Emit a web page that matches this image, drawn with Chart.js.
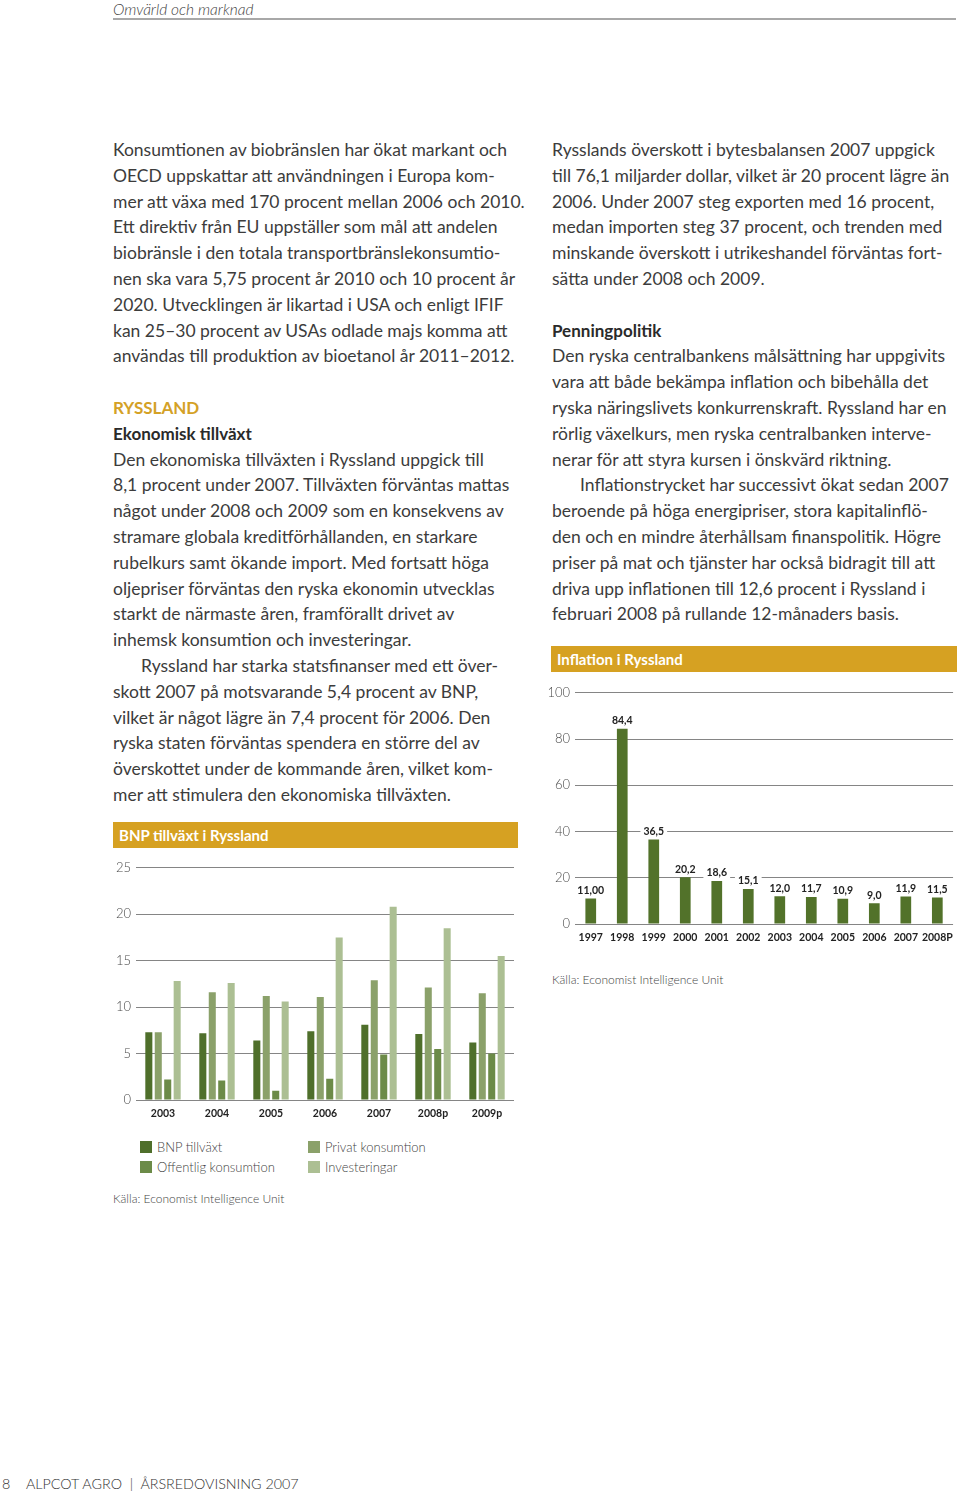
<!DOCTYPE html>
<html lang="sv">
<head>
<meta charset="utf-8">
<title>Omvärld och marknad</title>
<script src="https://cdn.jsdelivr.net/npm/chart.js@4.4.1/dist/chart.umd.min.js"></script>
<style>
    html, body { margin: 0; padding: 0; background: #fff; }
    body { width: 960px; height: 1496px; position: relative; overflow: hidden;
           font-family: "Lato", "Open Sans", sans-serif; color: #333; }
    .hdr { position: absolute; left: 113px; top: 0; font-size: 15.5px; font-style: italic;
           font-weight: 300; color: #444; line-height: 18px; }
    .hdr-rule { position: absolute; left: 113px; top: 18px; width: 843px; height: 2px; background: #a8a8a8; }
    .col { position: absolute; top: 137px; font-size: 17.5px; font-weight: 400; line-height: 25.8px;
           white-space: nowrap; color: #3c3c3c; }
    .col div { height: 25.8px; }
    .col .ind { padding-left: 28px; }
    .col .gold { color: #d4a126; font-weight: 700; font-size: 17px; }
    .col .bold { font-weight: 700; font-size: 17px; color: #2a2a2a; }
    .bar-title { position: absolute; height: 26px; background: #d6a122; color: #fff;
                 font-weight: 700; font-size: 15px; line-height: 26px; padding-left: 6px; box-sizing: border-box; }
    .cv { position: absolute; }
    .legend { position: absolute; left: 140px; top: 1138px; font-size: 13px; font-weight: 300; color: #444; }
    .legend .it { position: absolute; white-space: nowrap; line-height: 18px; }
    .legend .sw { display: inline-block; width: 12px; height: 12px; vertical-align: -1px; margin-right: 5px; }
    .src { position: absolute; font-size: 12px; font-weight: 300; color: #444; white-space: nowrap; }
    .foot { position: absolute; top: 1475px; font-size: 14.3px; font-weight: 300; color: #333; white-space: nowrap; }
</style>
</head>
<body>

<div class="hdr">Omvärld och marknad</div>
<div class="hdr-rule"></div>

<div class="col" style="left:113px">
    <div>Konsumtionen av biobränslen har ökat markant och</div>
    <div>OECD uppskattar att användningen i Europa kom-</div>
    <div>mer att växa med 170 procent mellan 2006 och 2010.</div>
    <div>Ett direktiv från EU uppställer som mål att andelen</div>
    <div>biobränsle i den totala transportbränslekonsumtio-</div>
    <div>nen ska vara 5,75 procent år 2010 och 10 procent år</div>
    <div>2020. Utvecklingen är likartad i USA och enligt IFIF</div>
    <div>kan 25–30 procent av USAs odlade majs komma att</div>
    <div>användas till produktion av bioetanol år 2011–2012.</div>
    <div></div>
    <div class="gold">RYSSLAND</div>
    <div class="bold">Ekonomisk tillväxt</div>
    <div>Den ekonomiska tillväxten i Ryssland uppgick till</div>
    <div>8,1 procent under 2007. Tillväxten förväntas mattas</div>
    <div>något under 2008 och 2009 som en konsekvens av</div>
    <div>stramare globala kreditförhållanden, en starkare</div>
    <div>rubelkurs samt ökande import. Med fortsatt höga</div>
    <div>oljepriser förväntas den ryska ekonomin utvecklas</div>
    <div>starkt de närmaste åren, framförallt drivet av</div>
    <div>inhemsk konsumtion och investeringar.</div>
    <div class="ind">Ryssland har starka statsfinanser med ett över-</div>
    <div>skott 2007 på motsvarande 5,4 procent av BNP,</div>
    <div>vilket är något lägre än 7,4 procent för 2006. Den</div>
    <div>ryska staten förväntas spendera en större del av</div>
    <div>överskottet under de kommande åren, vilket kom-</div>
    <div>mer att stimulera den ekonomiska tillväxten.</div>
</div>

<div class="col" style="left:552px">
    <div>Rysslands överskott i bytesbalansen 2007 uppgick</div>
    <div>till 76,1 miljarder dollar, vilket är 20 procent lägre än</div>
    <div>2006. Under 2007 steg exporten med 16 procent,</div>
    <div>medan importen steg 37 procent, och trenden med</div>
    <div>minskande överskott i utrikeshandel förväntas fort-</div>
    <div>sätta under 2008 och 2009.</div>
    <div></div>
    <div class="bold">Penningpolitik</div>
    <div>Den ryska centralbankens målsättning har uppgivits</div>
    <div>vara att både bekämpa inflation och bibehålla det</div>
    <div>ryska näringslivets konkurrenskraft. Ryssland har en</div>
    <div>rörlig växelkurs, men ryska centralbanken interve-</div>
    <div>nerar för att styra kursen i önskvärd riktning.</div>
    <div class="ind">Inflationstrycket har successivt ökat sedan 2007</div>
    <div>beroende på höga energipriser, stora kapitalinflö-</div>
    <div>den och en mindre återhållsam finanspolitik. Högre</div>
    <div>priser på mat och tjänster har också bidragit till att</div>
    <div>driva upp inflationen till 12,6 procent i Ryssland i</div>
    <div>februari 2008 på rullande 12-månaders basis.</div>
</div>

<!-- Inflation chart -->
<div class="bar-title" style="left:551px; top:646px; width:406px">Inflation i Ryssland</div>
<canvas id="inf-chart" class="cv" style="left:540px; top:680px" width="420" height="269"></canvas>
<div class="src" style="left:552px; top:972px">Källa: Economist Intelligence Unit</div>

<!-- BNP chart -->
<div class="bar-title" style="left:113px; top:822px; width:405px">BNP tillväxt i Ryssland</div>
<canvas id="bnp-chart" class="cv" style="left:100px; top:855px" width="420" height="270"></canvas>
<div class="legend" id="bnp-legend"></div>
<div class="src" style="left:113px; top:1191px">Källa: Economist Intelligence Unit</div>

<div class="foot" style="left:2px">8</div>
<div class="foot" style="left:26px">ALPCOT AGRO&nbsp;&nbsp;|&nbsp;&nbsp;ÅRSREDOVISNING 2007</div>

<script>
// ── BNP tillväxt i Ryssland (procent) ───────────────────────────────────
const BNP_YEARS      = ["2003","2004","2005","2006","2007","2008p","2009p"];
const BNP_GROWTH     = [7.3, 7.2, 6.4, 7.4, 8.1, 7.1, 6.2];
const PRIVATE_CONS   = [7.3, 11.6, 11.2, 11.1, 12.9, 12.1, 11.5];
const PUBLIC_CONS    = [2.2, 2.1, 1.0, 2.3, 4.9, 5.5, 5.0];
const INVESTMENTS    = [12.8, 12.6, 10.6, 17.5, 20.8, 18.5, 15.5];
const BNP_Y_MAX      = 25;
const BNP_Y_STEP     = 5;

// ── Inflation i Ryssland (procent) ──────────────────────────────────────
const INF_YEARS      = ["1997","1998","1999","2000","2001","2002","2003","2004","2005","2006","2007","2008P"];
const INFLATION      = [11.0, 84.4, 36.5, 20.2, 18.6, 15.1, 12.0, 11.7, 10.9, 9.0, 11.9, 11.5];
const INF_LABELS     = ["11,00","84,4","36,5","20,2","18,6","15,1","12,0","11,7","10,9","9,0","11,9","11,5"];
const INF_Y_MAX      = 100;
const INF_Y_STEP     = 20;

const FONT     = "Lato, 'Open Sans', sans-serif";
const GRID_COL = "#858585";

// Value labels on a white patch, so gridlines break behind them
const valueLabels = {
    id: "valueLabels",
    afterDatasetsDraw(chart, args, opts) {
        const ctx  = chart.ctx;
        const meta = chart.getDatasetMeta(0);
        ctx.save();
        ctx.font = `700 10.5px ${FONT}`;
        ctx.textAlign = "center";
        ctx.textBaseline = "middle";
        meta.data.forEach((bar, i) => {
            const txt = opts.labels[i];
            const w   = ctx.measureText(txt).width + 6;
            const y   = bar.y - 8;
            ctx.fillStyle = "#fff";
            ctx.fillRect(bar.x - w / 2, y - 6, w, 12);
            ctx.fillStyle = "#222";
            ctx.fillText(txt, bar.x, y);
        });
        ctx.restore();
    },
};

function yAxis(max, step, width) {
    return {
        min: 0, max: max,
        border: { display: false },
        grid: { color: GRID_COL, lineWidth: 1, drawTicks: false },
        ticks: { stepSize: step, padding: 5, color: "#4a4a4a",
                 font: { family: FONT, size: 13, weight: 300 } },
        afterFit: s => { s.width = width; },
    };
}
function xAxis() {
    return {
        border: { display: false },
        grid: { display: false, drawTicks: false },
        ticks: { padding: 7, color: "#222", autoSkip: false, minRotation: 0, maxRotation: 0,
                 font: { family: FONT, size: 10.5, weight: 700 } },
        afterFit: s => { s.height = 25; },
    };
}

Chart.defaults.animation = false;
Chart.defaults.responsive = false;

new Chart(document.getElementById("inf-chart"), {
    type: "bar",
    data: {
        labels: INF_YEARS,
        datasets: [{ label: "Inflation", data: INFLATION, backgroundColor: "#52722a",
                     categoryPercentage: 1.0, barPercentage: 0.34 }],
    },
    options: {
        layout: { padding: { top: 12, right: 6, left: 0, bottom: 0 } },
        plugins: { legend: { display: false }, tooltip: { enabled: false },
                   valueLabels: { labels: INF_LABELS } },
        scales: { x: xAxis(), y: yAxis(INF_Y_MAX, INF_Y_STEP, 35) },
    },
    plugins: [valueLabels],
});

const bnpSeries = [
    { label: "BNP tillväxt",          data: BNP_GROWTH,   color: "#4f6f2b" },
    { label: "Privat konsumtion",     data: PRIVATE_CONS, color: "#8ba16a" },
    { label: "Offentlig konsumtion",  data: PUBLIC_CONS,  color: "#6c8b48" },
    { label: "Investeringar",         data: INVESTMENTS,  color: "#acbf93" },
];

new Chart(document.getElementById("bnp-chart"), {
    type: "bar",
    data: {
        labels: BNP_YEARS,
        datasets: bnpSeries.map(s => ({ label: s.label, data: s.data, backgroundColor: s.color,
                                        categoryPercentage: 0.70, barPercentage: 0.745 })),
    },
    options: {
        layout: { padding: { top: 12, right: 6, left: 0, bottom: 0 } },
        plugins: { legend: { display: false }, tooltip: { enabled: false } },
        scales: { x: xAxis(), y: yAxis(BNP_Y_MAX, BNP_Y_STEP, 36) },
    },
});

// Legend as a 2x2 grid: BNP / Privat on top, Offentlig / Investeringar below
const legendSlots = [[0, 0], [168, 0], [0, 20], [168, 20]];
document.getElementById("bnp-legend").innerHTML = bnpSeries.map((s, i) => {
    const [x, y] = legendSlots[i];
    return `<div class="it" style="left:${x}px;top:${y}px"><span class="sw" style="background:${s.color}"></span>${s.label}</div>`;
}).join("");
</script>
</body>
</html>
